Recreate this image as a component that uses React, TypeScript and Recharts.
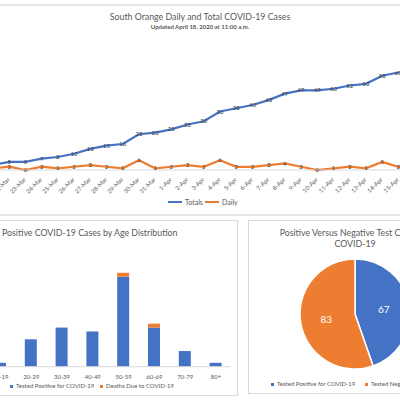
import React from 'react';
import {
  LineChart, Line, XAxis, YAxis, CartesianGrid, LabelList,
  BarChart, Bar, PieChart, Pie, Cell,
} from 'recharts';

const dates = [
  '21-Mar', '22-Mar', '23-Mar', '24-Mar', '25-Mar', '26-Mar', '27-Mar', '28-Mar', '29-Mar', '30-Mar', '31-Mar',
  '1-Apr', '2-Apr', '3-Apr', '4-Apr', '5-Apr', '6-Apr', '7-Apr', '8-Apr', '9-Apr', '10-Apr',
  '11-Apr', '12-Apr', '13-Apr', '14-Apr', '15-Apr', '16-Apr', '17-Apr', '18-Apr',
];
const totals = [3, 5, 5, 7, 8, 10, 13, 15, 16, 22, 23, 25, 28, 30, 36, 38, 40, 43, 47, 49, 49, 50, 52, 53, 58, 60, 62, 65, 67];
const daily = [1, 2, 0, 2, 1, 2, 3, 2, 1, 6, 1, 2, 3, 2, 6, 2, 2, 3, 4, 2, 0, 1, 2, 1, 5, 2, 2, 3, 2];
const caseTicks = [0, 10, 20, 30, 40, 50, 60, 70, 80];

const ageGroups = ['10-19', '20-29', '30-39', '40-49', '50-59', '60-69', '70-79', '80+'];
const positives = [1, 7, 10, 9, 23, 10, 4, 1];
const deaths = [0, 0, 0, 0, 1, 1, 0, 0];
const ageTicks = [0, 5, 10, 15, 20, 25, 30];

const testLabels = ['Tested Positive for COVID-19', 'Tested Negative for COVID-19'];
const testCounts = [67, 83];

const BLUE = '#4472C4';
const ORANGE = '#ED7D31';
const GRID = '#d9d9d9';
const TEXT = '#595959';
const FONT = 'Lato, "Liberation Sans", sans-serif';

const lineData = dates.map((d, i) => ({ date: d, totals: totals[i], daily: daily[i] }));
const barData = ageGroups.map((g, i) => ({ group: g, positive: positives[i], deaths: deaths[i] }));
const pieData = testLabels.map((name, i) => ({ name, value: testCounts[i] }));

const DateTick = ({ x, y, payload }: any) => (
  <text
    x={x + 1}
    y={y + 2}
    transform={`rotate(-45, ${x + 1}, ${y + 2})`}
    textAnchor="end"
    fontSize={6}
    fill={TEXT}
    fontFamily={FONT}
  >
    {payload.value}
  </text>
);

const PointLabel = ({ x, y, value }: any) => (
  <text x={x} y={y} dy={2} textAnchor="middle" fontSize={6} fill="#404040" fontFamily={FONT}>
    {value}
  </text>
);

const RADIAN = Math.PI / 180;
const SliceLabel = ({ cx, cy, midAngle, outerRadius, value }: any) => {
  const r = outerRadius * 0.53;
  const x = cx + r * Math.cos(-midAngle * RADIAN);
  const y = cy + r * Math.sin(-midAngle * RADIAN);
  return (
    <text x={x} y={y} textAnchor="middle" dominantBaseline="central" fontSize={10} fill="#fff" fontFamily={FONT}>
      {value}
    </text>
  );
};

const Swatch = ({ left, top, color, label, line }: any) => (
  <div style={{ position: 'absolute', left, top, display: 'flex', alignItems: 'center', gap: 3, whiteSpace: 'nowrap' }}>
    <span style={{ display: 'inline-block', width: line ? 14 : 3, height: line ? 2 : 3, background: color }} />
    <span style={{ fontSize: line ? 7 : 6, color: TEXT, lineHeight: '8px' }}>{label}</span>
  </div>
);

export default function App() {
  return (
    <div style={{ position: 'absolute', left: 0, top: 0, width: 400, height: 400, overflow: 'hidden', background: '#fff', fontFamily: FONT }}>
      {/* top chart frame */}
      <div style={{ position: 'absolute', left: -10, top: 4, width: 420, height: 208, border: '2px solid #e6e6e6' }} />
      <div style={{ position: 'absolute', left: 0, width: 400, top: 11, textAlign: 'center', fontSize: 8.8, color: TEXT, lineHeight: '12px' }}>
        South Orange Daily and Total COVID-19 Cases
      </div>
      <div style={{ position: 'absolute', left: 0, width: 400, top: 23, textAlign: 'center', fontSize: 6, fontWeight: 700, color: TEXT, lineHeight: '8px' }}>
        Updated April 18, 2020 at 11:00 a.m.
      </div>
      <div style={{ position: 'absolute', left: -7, top: 0 }}>
        <LineChart width={454} height={215} data={lineData} margin={{ top: 40, right: 0, bottom: 0, left: 0 }}>
          <CartesianGrid vertical={false} stroke={GRID} horizontalValues={caseTicks} />
          <XAxis dataKey="date" interval={0} tickLine={false} axisLine={{ stroke: GRID }} height={45} tick={<DateTick />} />
          <YAxis width={0} domain={[0, 80]} ticks={caseTicks} interval={0} tick={false} axisLine={false} tickLine={false} />
          <Line type="linear" dataKey="totals" stroke={BLUE} strokeWidth={2.25} dot={false} isAnimationActive={false}>
            <LabelList dataKey="totals" content={<PointLabel />} />
          </Line>
          <Line type="linear" dataKey="daily" stroke={ORANGE} strokeWidth={2.25} dot={false} isAnimationActive={false}>
            <LabelList dataKey="daily" content={<PointLabel />} />
          </Line>
        </LineChart>
      </div>
      <Swatch left={168} top={198} color={BLUE} label="Totals" line />
      <Swatch left={205} top={198} color={ORANGE} label="Daily" line />

      {/* age distribution */}
      <div style={{ position: 'absolute', left: -10, top: 220, width: 248, height: 176, border: `1px solid ${GRID}`, boxSizing: 'border-box' }} />
      <div style={{ position: 'absolute', left: 2, top: 227, fontSize: 8.8, color: TEXT, lineHeight: '12px', whiteSpace: 'nowrap' }}>
        Positive COVID-19 Cases by Age Distribution
      </div>
      <div style={{ position: 'absolute', left: -15.4, top: 240 }}>
        <BarChart width={246.4} height={145} data={barData} margin={{ top: 9.3, right: 0, bottom: 0, left: 0 }} barSize={12}>
          <CartesianGrid vertical={false} stroke={GRID} horizontalValues={ageTicks} />
          <XAxis
            dataKey="group"
            interval={0}
            tickLine={false}
            axisLine={{ stroke: GRID }}
            height={18.3}
            tick={{ fontSize: 6, fill: TEXT, fontFamily: FONT }}
            tickMargin={2}
          />
          <YAxis width={0} domain={[0, 30]} ticks={ageTicks} interval={0} tick={false} axisLine={false} tickLine={false} />
          <Bar dataKey="positive" stackId="a" fill={BLUE} isAnimationActive={false} />
          <Bar dataKey="deaths" stackId="a" fill={ORANGE} isAnimationActive={false} />
        </BarChart>
      </div>
      <Swatch left={10} top={382} color={BLUE} label="Tested Positive for COVID-19" />
      <Swatch left={100} top={382} color={ORANGE} label="Deaths Due to COVID-19" />

      {/* positive vs negative */}
      <div style={{ position: 'absolute', left: 248, top: 220, width: 200, height: 174, border: `1px solid ${GRID}`, boxSizing: 'border-box' }} />
      <div style={{ position: 'absolute', left: 255, width: 200, top: 227, textAlign: 'center', fontSize: 8.8, color: TEXT, lineHeight: '11px' }}>
        Positive Versus Negative Test Cases for<br />COVID-19
      </div>
      <div style={{ position: 'absolute', left: 248, top: 220 }}>
        <PieChart width={152} height={174} margin={{ top: 0, right: 0, bottom: 0, left: 0 }}>
          <Pie
            data={pieData}
            dataKey="value"
            nameKey="name"
            cx={107}
            cy={94}
            outerRadius={55}
            startAngle={90}
            endAngle={-270}
            stroke="#fff"
            strokeWidth={1.5}
            labelLine={false}
            label={<SliceLabel />}
            isAnimationActive={false}
          >
            <Cell fill={BLUE} />
            <Cell fill={ORANGE} />
          </Pie>
        </PieChart>
      </div>
      <Swatch left={271} top={380} color={BLUE} label={testLabels[0]} />
      <Swatch left={365} top={380} color={ORANGE} label={testLabels[1]} />
    </div>
  );
}
